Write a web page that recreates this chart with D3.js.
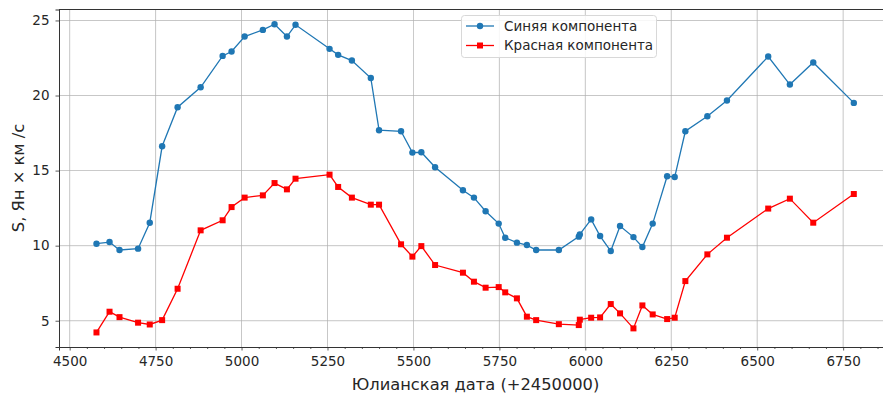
<!DOCTYPE html>
<html>
<head>
<meta charset="utf-8">
<script src="https://cdn.jsdelivr.net/npm/d3@7"></script>
<style>
  html, body { margin: 0; padding: 0; background: #fff; }
  svg { display: block; font-family: "DejaVu Sans", sans-serif; }
</style>
</head>
<body>
<svg id="chart" width="883" height="394"></svg>
<script>
// Julian dates (offset +2450000) of the observations
const dates = [4578, 4616, 4645, 4699, 4733, 4769, 4814, 4881, 4945, 4971, 5009, 5062, 5096, 5132, 5157,
  5256, 5281, 5321, 5376, 5400, 5464, 5497, 5523, 5563, 5644, 5676, 5710, 5748, 5767, 5801, 5830, 5857,
  5923, 5981, 5984, 6017, 6043, 6074, 6101, 6140, 6166, 6196, 6238, 6260, 6291, 6355, 6412, 6532, 6595,
  6663, 6781];

// Flux density of the blue component
const blueValues = [10.13, 10.24, 9.71, 9.80, 11.53, 16.62, 19.22, 20.55, 22.64, 22.93, 23.93, 24.37, 24.75, 23.93, 24.71,
  23.11, 22.71, 22.33, 21.17, 17.69, 17.62, 16.20, 16.22, 15.22, 13.69, 13.20, 12.29, 11.47, 10.53, 10.20, 10.04, 9.71,
  9.71, 10.60, 10.75, 11.75, 10.64, 9.64, 11.31, 10.57, 9.91, 11.47, 14.62, 14.57, 17.62, 18.62, 19.67, 22.60, 20.73,
  22.20, 19.51];

// Flux density of the red component
const redValues = [4.22, 5.60, 5.24, 4.87, 4.75, 5.04, 7.13, 11.02, 11.69, 12.57, 13.20, 13.35, 14.17, 13.75, 14.46,
  14.73, 13.91, 13.20, 12.73, 12.73, 10.09, 9.27, 9.97, 8.71, 8.20, 7.60, 7.20, 7.24, 6.89, 6.49, 5.27, 5.04,
  4.77, 4.71, 5.07, 5.20, 5.22, 6.11, 5.49, 4.49, 6.02, 5.42, 5.11, 5.20, 7.64, 9.42, 10.53, 12.47, 13.13,
  11.53, 13.44];

const xTicks = [4500, 4750, 5000, 5250, 5500, 5750, 6000, 6250, 6500, 6750];
const xMinorTicks = d3.range(4500, 6901, 50);
const yTicks = [5, 10, 15, 20, 25];

const seriesNames = ["Синяя компонента", "Красная компонента"];
const seriesColors = ["#1f77b4", "#ff0000"];

const xLabel = "Юлианская дата (+2450000)";
const yLabel = "S, Ян × км /с";

const svg = d3.select("#chart");
const m = { left: 59, top: 9.5, right: 893, bottom: 347 };

const x = d3.scaleLinear().domain([4469, 6895]).range([m.left, m.right]);
const y = d3.scaleLinear().domain([3.25, 25.73]).range([m.bottom, m.top]);

// grid
const grid = svg.append("g");
grid.selectAll("line.gx").data(xTicks).join("line")
  .attr("x1", d => x(d)).attr("x2", d => x(d))
  .attr("y1", m.top).attr("y2", m.bottom)
  .attr("stroke", "#b0b0b0").attr("stroke-width", 0.8).attr("opacity", 0.9);
grid.selectAll("line.gy").data(yTicks).join("line")
  .attr("x1", m.left).attr("x2", m.right)
  .attr("y1", d => y(d)).attr("y2", d => y(d))
  .attr("stroke", "#b0b0b0").attr("stroke-width", 0.8).attr("opacity", 0.9);

// axes
svg.append("g").attr("transform", `translate(0,${m.bottom})`)
  .call(d3.axisBottom(x).tickValues(xTicks).tickFormat(d3.format("d")).tickSizeOuter(0).tickSize(3.5).tickPadding(6));
svg.append("g").attr("transform", `translate(0,${m.bottom})`)
  .call(d3.axisBottom(x).tickValues(xMinorTicks.filter(v => !xTicks.includes(v))).tickFormat("").tickSizeOuter(0).tickSize(2))
  .call(g => g.select(".domain").remove());
svg.append("g").attr("transform", `translate(${m.left},0)`)
  .call(d3.axisLeft(y).tickValues(yTicks).tickSizeOuter(0).tickSize(3.5).tickPadding(6));

svg.selectAll(".tick text").attr("font-size", 13.5).attr("fill", "#262626").attr("font-family", "DejaVu Sans");
svg.selectAll(".tick line").attr("stroke", "#333").attr("stroke-width", 0.8);
svg.selectAll(".domain").attr("stroke", "#333").attr("stroke-width", 1);

// top spine
svg.append("line").attr("x1", m.left).attr("x2", m.right).attr("y1", m.top).attr("y2", m.top)
  .attr("stroke", "#333").attr("stroke-width", 1);

// axis labels
svg.append("text").attr("x", 475.5).attr("y", 390)
  .attr("text-anchor", "middle").attr("font-size", 16.3).attr("fill", "#262626").text(xLabel);
svg.append("text").attr("transform", `translate(24,178) rotate(-90)`)
  .attr("text-anchor", "middle").attr("font-size", 16.3).attr("fill", "#262626").text(yLabel);

// series
const line = d3.line().x(d => x(d[0])).y(d => y(d[1]));
const blue = dates.map((d, i) => [d, blueValues[i]]);
const red = dates.map((d, i) => [d, redValues[i]]);

svg.append("path").datum(blue).attr("d", line).attr("fill", "none")
  .attr("stroke", seriesColors[0]).attr("stroke-width", 1.3);
svg.append("g").selectAll("circle").data(blue).join("circle")
  .attr("cx", d => x(d[0])).attr("cy", d => y(d[1])).attr("r", 3.2).attr("fill", seriesColors[0]);

svg.append("path").datum(red).attr("d", line).attr("fill", "none")
  .attr("stroke", seriesColors[1]).attr("stroke-width", 1.3);
const sq = 6;
svg.append("g").selectAll("rect").data(red).join("rect")
  .attr("x", d => x(d[0]) - sq / 2).attr("y", d => y(d[1]) - sq / 2)
  .attr("width", sq).attr("height", sq).attr("fill", seriesColors[1]);

// legend
const lg = svg.append("g");
lg.append("rect").attr("x", 461.5).attr("y", 15.5).attr("width", 195).attr("height", 42).attr("rx", 3)
  .attr("fill", "#fff").attr("fill-opacity", 0.85).attr("stroke", "#d8d8d8").attr("stroke-width", 1);
seriesNames.forEach((name, i) => {
  const cy = 26 + i * 19.5;
  lg.append("line").attr("x1", 466).attr("x2", 494).attr("y1", cy).attr("y2", cy)
    .attr("stroke", seriesColors[i]).attr("stroke-width", 1.3);
  if (i === 0) {
    lg.append("circle").attr("cx", 480).attr("cy", cy).attr("r", 3.2).attr("fill", seriesColors[i]);
  } else {
    lg.append("rect").attr("x", 480 - sq / 2).attr("y", cy - sq / 2).attr("width", sq).attr("height", sq)
      .attr("fill", seriesColors[i]);
  }
  lg.append("text").attr("x", 504).attr("y", cy + 4.8).attr("font-size", 13.5).attr("fill", "#262626").text(name);
});
</script>
</body>
</html>
